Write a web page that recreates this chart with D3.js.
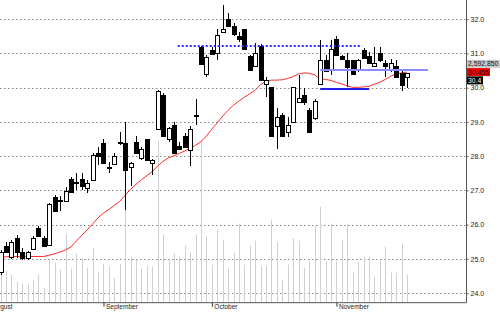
<!DOCTYPE html>
<html>
<head>
<meta charset="utf-8">
<script src="https://cdn.jsdelivr.net/npm/d3@7"></script>
<style>
  html, body { margin: 0; padding: 0; background: #fff; }
  svg { display: block; font-family: "Liberation Sans", Arial, sans-serif; }
</style>
</head>
<body>
<div id="chart"></div>
<script>
// daily candles, [open, high, low, close]
const ohlc = [
  [24.61, 25.25, 24.52, 25.19], [25.37, 25.48, 25.16, 25.19], [25.04, 25.54, 25.01, 25.48],
  [25.60, 25.69, 25.04, 25.19], [25.19, 25.31, 24.98, 25.01], [25.01, 25.22, 24.98, 25.19],
  [25.28, 25.66, 25.25, 25.60], [25.89, 25.95, 25.63, 25.66], [25.61, 25.66, 25.37, 25.39],
  [25.39, 26.62, 25.37, 26.59], [26.80, 26.86, 26.36, 26.39], [26.71, 26.83, 26.39, 26.68],
  [26.70, 27.10, 26.68, 26.98], [27.32, 27.39, 26.91, 26.94], [27.22, 27.51, 27.02, 27.24],
  [27.32, 27.50, 27.00, 27.12], [27.08, 27.30, 26.91, 27.22], [27.30, 28.08, 27.28, 28.03],
  [28.09, 28.27, 27.73, 28.00], [28.39, 28.51, 27.79, 27.80], [27.69, 27.83, 27.51, 27.68],
  [27.78, 28.08, 27.73, 28.00], [28.41, 28.71, 28.32, 28.42], [28.39, 28.99, 26.42, 27.61],
  [27.68, 27.83, 27.12, 27.80], [28.40, 28.58, 28.08, 28.09], [27.96, 28.27, 27.88, 28.22],
  [28.49, 28.51, 27.86, 27.88], [27.80, 27.92, 27.44, 27.90], [28.78, 29.93, 28.76, 29.90],
  [29.80, 29.85, 28.60, 28.61], [28.49, 28.84, 28.41, 28.81], [28.90, 28.99, 28.08, 28.09],
  [28.29, 28.41, 28.17, 28.19], [28.58, 28.68, 28.26, 28.27], [28.19, 28.87, 27.70, 28.79],
  [29.19, 29.68, 28.90, 29.20], [31.19, 31.21, 30.67, 30.69], [30.39, 30.95, 30.32, 30.90],
  [31.10, 31.19, 30.95, 30.98], [31.00, 31.70, 30.82, 31.54], [31.60, 32.41, 31.59, 31.70],
  [32.00, 32.19, 31.78, 31.81], [31.80, 31.89, 31.51, 31.58], [31.51, 31.63, 31.34, 31.41],
  [31.70, 31.71, 31.11, 31.12], [30.92, 30.94, 30.50, 30.51], [30.61, 31.29, 30.60, 31.00],
  [31.21, 31.27, 30.20, 30.22], [30.10, 30.30, 29.73, 30.22], [30.01, 30.01, 28.58, 28.59],
  [28.87, 29.42, 28.22, 29.13], [29.19, 29.25, 28.58, 28.59], [28.71, 29.15, 28.56, 28.90],
  [28.99, 30.01, 28.99, 30.01], [29.58, 30.37, 29.58, 29.71], [29.78, 29.98, 29.50, 29.58],
  [29.34, 29.40, 28.67, 28.70], [29.10, 29.66, 29.05, 29.60], [30.12, 31.39, 30.07, 30.82],
  [30.82, 30.95, 30.46, 30.49], [30.51, 31.39, 30.37, 31.12], [31.41, 31.51, 30.94, 30.95],
  [30.92, 30.94, 30.82, 30.82], [30.80, 31.00, 30.02, 30.61], [30.80, 30.82, 30.37, 30.39],
  [30.51, 30.85, 30.46, 30.80], [31.10, 31.15, 30.85, 30.88], [30.92, 31.05, 30.70, 30.71],
  [30.63, 31.19, 30.62, 30.72], [31.00, 31.19, 30.75, 30.80], [30.72, 30.80, 30.32, 30.63],
  [30.51, 30.85, 30.46, 30.71], [30.63, 30.80, 30.31, 30.32], [30.43, 30.51, 29.91, 30.07],
  [30.32, 30.43, 29.98, 30.43]
];

// moving average (red line)
const maValues = [
  25.05, 25.06, 25.07, 25.07, 25.07, 25.06, 25.07, 25.07, 25.07, 25.11,
  25.15, 25.20, 25.26, 25.35, 25.52, 25.69, 25.85, 26.02, 26.20, 26.34,
  26.45, 26.56, 26.68, 26.86, 27.03, 27.18, 27.31, 27.43, 27.55, 27.71,
  27.85, 27.95, 28.01, 28.08, 28.15, 28.23, 28.32, 28.42, 28.59, 28.79,
  28.97, 29.17, 29.34, 29.49, 29.61, 29.72, 29.82, 29.93, 30.09, 30.19,
  30.22, 30.22, 30.23, 30.27, 30.32, 30.40, 30.43, 30.42, 30.37, 30.25,
  30.24, 30.21, 30.15, 30.11, 30.05, 30.01, 30.01, 30.02, 30.04, 30.10,
  30.16, 30.24, 30.33, 30.41, 30.43, 30.455
];

// volume, thousands of shares
const volumes = [
  2780, 2960, 2590, 1940, 1760, 1760, 2040, 2590, 1390, 4070,
  3700, 3060, 6390, 3150, 4540, 4170, 3240, 5090, 2780, 3610,
  3330, 2320, 3610, 9450, 4260, 3980, 3240, 3430, 3330, 15000,
  6300, 4070, 4540, 4260, 5280, 4720, 6300, 15000, 6200, 3520,
  6760, 5830, 3150, 4630, 7320, 3520, 5280, 5740, 3430, 3430,
  7690, 5560, 2130, 3520, 5930, 5740, 3240, 3890, 7130, 8890,
  3890, 7320, 3890, 5830, 7220, 2780, 3800, 4260, 4260, 2410,
  3890, 5190, 2780, 2780, 5460, 2593
];
const lastVolume = 2592850;

const priceTicks = [24, 25, 26, 27, 28, 29, 30, 31, 32];
const monthLabels = ['August', 'September', 'October', 'November'];
const monthStarts = [-2, 19, 39, 62];

// drawn trend lines: [fromIndex, toIndex, price]
const dottedLine = [32.7, 66.7, 31.23];
const lightLine = [59, 78.9, 30.51];
const darkLine = [59, 68, 29.95];

const width = 500, height = 312;
const plotW = 466, plotH = 302.7;

const svg = d3.select('#chart').append('svg')
  .attr('width', width).attr('height', height);

const x = d3.scaleLinear().domain([-0.1, 85.9]).range([0, plotW]);
const y = d3.scaleLinear().domain([23.72, 32.56]).range([plotH, 0]);
const yVol = d3.scaleLinear().domain([0, 28000]).range([plotH, 0]);
const px = v => Math.round(x(v)) + 0.5;

// grid
svg.append('g').selectAll('line').data(priceTicks).join('line')
  .attr('x1', 0).attr('x2', plotW)
  .attr('y1', d => Math.round(y(d)) + 0.5).attr('y2', d => Math.round(y(d)) + 0.5)
  .attr('stroke', '#888').attr('stroke-dasharray', '1.5,2.5');

// volume bars
svg.append('g').selectAll('line').data(volumes).join('line')
  .attr('x1', (d, i) => px(i)).attr('x2', (d, i) => px(i))
  .attr('y1', plotH).attr('y2', d => yVol(d))
  .attr('stroke', '#d0d0d0').attr('stroke-width', 1);

// moving average
svg.append('path').datum(maValues)
  .attr('fill', 'none').attr('stroke', '#ff2a2a').attr('stroke-width', 1)
  .attr('d', d3.line().x((d, i) => x(i)).y(d => y(d)));

// candles
const candles = svg.append('g').attr('shape-rendering', 'crispEdges');
candles.selectAll('line').data(ohlc).join('line')
  .attr('x1', (d, i) => px(i)).attr('x2', (d, i) => px(i))
  .attr('y1', d => y(d[1])).attr('y2', d => y(d[2]))
  .attr('stroke', '#000');
candles.selectAll('rect').data(ohlc).join('rect')
  .attr('x', (d, i) => px(i) - 2)
  .attr('width', 4)
  .attr('y', d => Math.round(y(Math.max(d[0], d[3]))) + 0.5)
  .attr('height', d => Math.max(1, Math.round(y(Math.min(d[0], d[3])) - y(Math.max(d[0], d[3])))))
  .attr('fill', d => d[3] < d[0] ? '#000' : '#fff')
  .attr('stroke', '#000');

// trend lines
const trend = (l, color, w, dash) => svg.append('line')
  .attr('x1', x(l[0])).attr('x2', x(l[1]))
  .attr('y1', Math.round(y(l[2]))).attr('y2', Math.round(y(l[2])))
  .attr('stroke', color).attr('stroke-width', w)
  .attr('stroke-dasharray', dash);
trend(dottedLine, '#2a2aff', 2, '2,2');
trend(lightLine, '#8c8cff', 2, null);
trend(darkLine, '#2020e8', 2, null);

// frame
svg.append('path')
  .attr('d', `M0,${plotH}H${plotW + 0.5}V0`)
  .attr('fill', 'none').attr('stroke', '#555');

// right price axis
const yAxis = svg.append('g')
  .attr('transform', `translate(${plotW + 0.5},0)`)
  .call(d3.axisRight(y).tickValues(priceTicks).tickSize(2).tickPadding(2)
    .tickFormat(d3.format('.1f')));
yAxis.select('.domain').remove();
yAxis.selectAll('text').attr('font-size', 7).attr('fill', '#222');
yAxis.selectAll('line').attr('stroke', '#555');

// month axis
const xAxis = svg.append('g')
  .attr('transform', `translate(0,${plotH})`)
  .call(d3.axisBottom(x).tickValues(monthStarts).tickSize(4)
    .tickFormat((d, i) => monthLabels[i]));
xAxis.select('.domain').remove();
xAxis.selectAll('line').attr('stroke', '#333');
xAxis.selectAll('text')
  .attr('text-anchor', 'start').attr('x', 2).attr('y', 1.5)
  .attr('font-size', 6.5).attr('fill', '#222');

// last-value tags on the price axis
const maLast = maValues[maValues.length - 1];
const closeLast = ohlc[ohlc.length - 1][3];
const tagY = y(maLast);
const tags = [
  {text: d3.format(',')(lastVolume), bg: '#c8c8c8', fg: '#111', cy: tagY - 8.3, w: 33},
  {text: d3.format('.3f')(maLast), bg: '#f00000', fg: '#300', cy: tagY, w: 23},
  {text: d3.format('.1f')(closeLast), bg: '#000', fg: '#fff', cy: tagY + 8.3, w: 16}
];
const tag = svg.append('g').selectAll('g').data(tags).join('g')
  .attr('transform', d => `translate(${plotW + 1},${d.cy})`);
tag.append('rect')
  .attr('x', 0).attr('y', -4).attr('width', d => d.w).attr('height', 8)
  .attr('fill', d => d.bg);
tag.append('text')
  .attr('x', 1).attr('y', 2.5)
  .attr('font-size', 6.8).attr('fill', d => d.fg)
  .text(d => d.text);
</script>
</body>
</html>
